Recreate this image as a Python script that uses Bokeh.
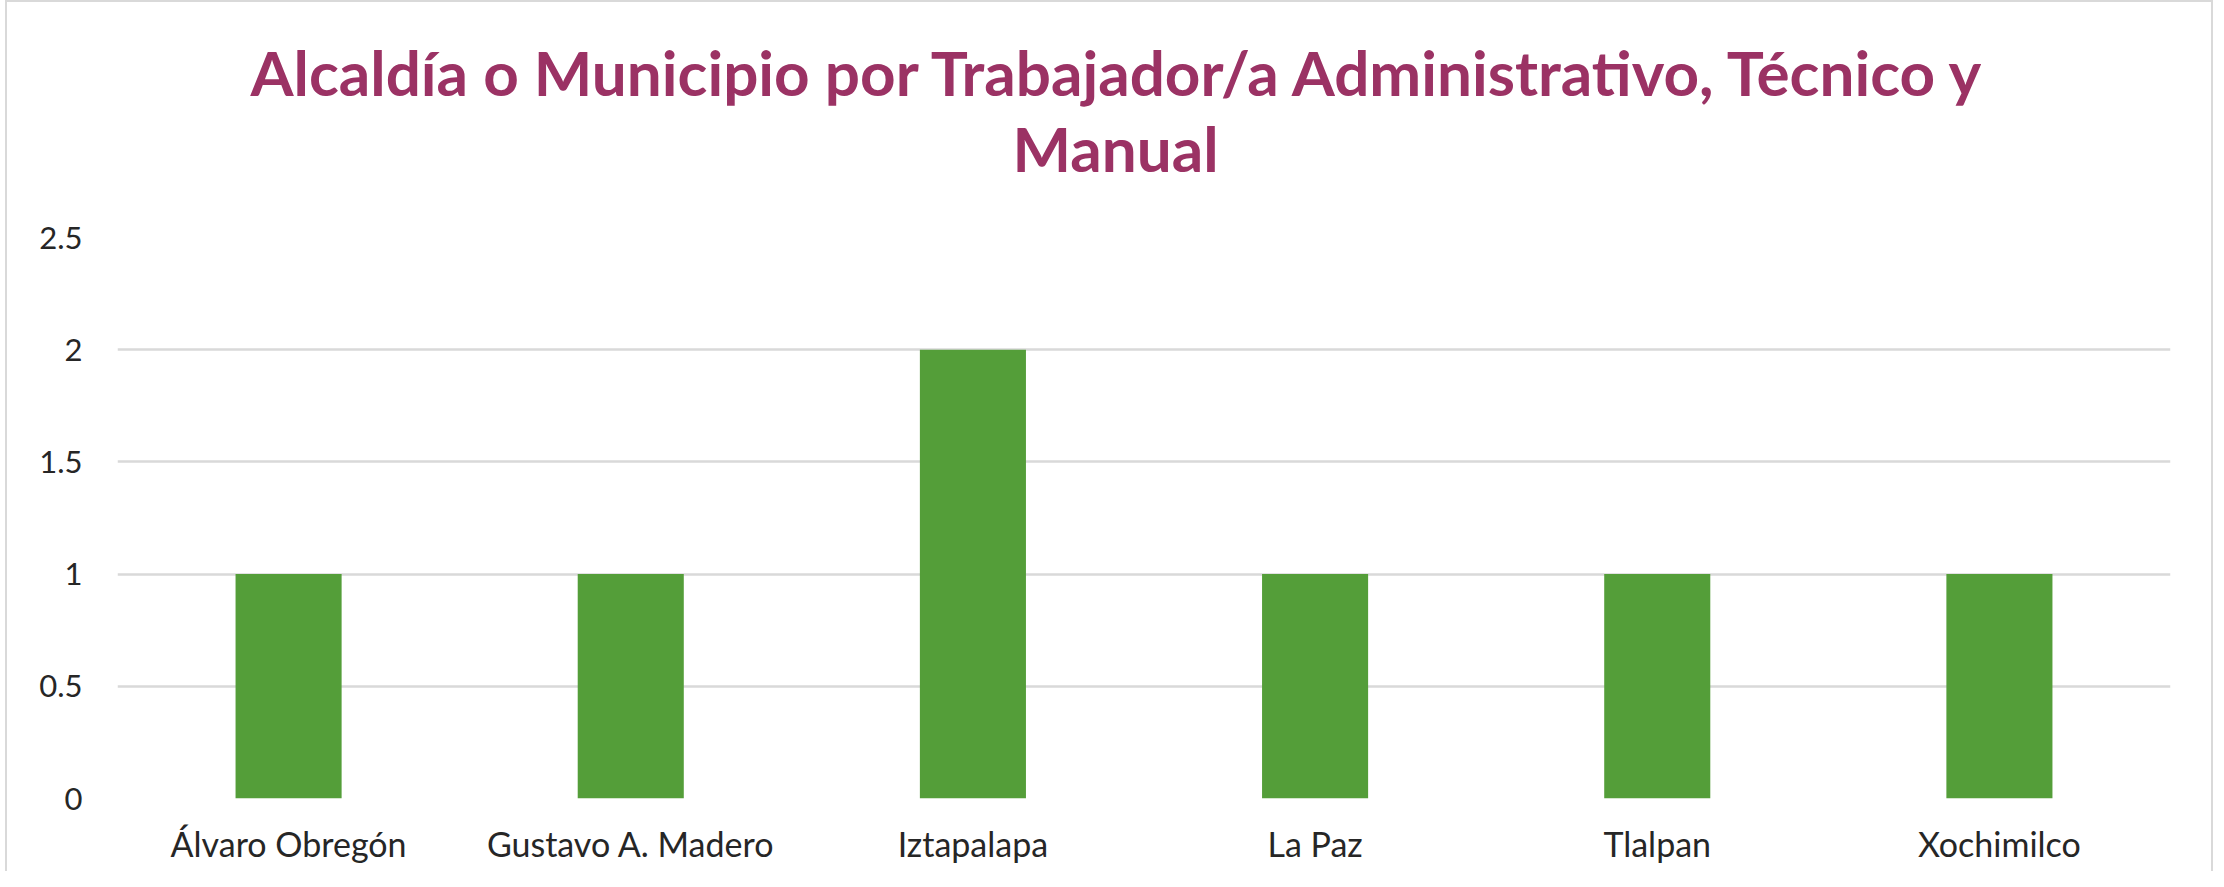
from bokeh.plotting import figure
from bokeh.models import Title, Range1d, FactorRange, ColumnDataSource, FixedTicker
from bokeh.embed import file_html
from bokeh.resources import INLINE

title_line1 = "Alcaldía o Municipio por Trabajador/a Administrativo, Técnico y"
title_line2 = "Manual"
categories = ["Álvaro Obregón", "Gustavo A. Madero", "Iztapalapa", "La Paz", "Tlalpan", "Xochimilco"]
values = [1, 1, 2, 1, 1, 1]
y_ticks = [0, 0.5, 1, 1.5, 2, 2.5]

BAR = "#549E39"
TITLE = "#9B3264"
GRID = "#D9D9D9"
FONT = "Lato"

src = ColumnDataSource(dict(cat=categories, val=values))

p = figure(
    x_range=FactorRange(*categories), y_range=Range1d(0, 2.5),
    width=2208, height=871, output_backend="svg", toolbar_location=None,
    title=None, min_border_left=110, min_border_right=45,
    min_border_top=235, min_border_bottom=75,
    margin=(0, 0, 0, 5),
    styles={"border-left": "2px solid #D9D9D9", "border-top": "2px solid #D9D9D9",
            "border-right": "2px solid #D9D9D9"},
)
p.vbar(x="cat", top="val", width=0.31, source=src, color=BAR, line_color=None)

# spacer between the plot area and the two title lines
p.add_layout(Title(text=" ", text_font_size="1px", standoff=50), "above")
p.add_layout(Title(text=title_line2, align="left", text_font=FONT, text_font_size="62px",
                   text_font_style="bold", text_color=TITLE, standoff=0, offset=895), "above")
p.add_layout(Title(text=title_line1, align="left", text_font=FONT, text_font_size="62px",
                   text_font_style="bold", text_color=TITLE, standoff=0, offset=133), "above")

p.outline_line_color = None
p.xgrid.grid_line_color = None
p.ygrid.grid_line_color = GRID
p.ygrid.grid_line_width = 2.5
p.yaxis.ticker = FixedTicker(ticks=y_ticks)

for ax in (p.xaxis[0], p.yaxis[0]):
    ax.axis_line_color = None
    ax.major_tick_line_color = None
    ax.minor_tick_line_color = None
    ax.major_tick_out = 0
    ax.major_tick_in = 0
    ax.major_label_text_font = FONT
    ax.major_label_text_color = "#262626"
p.xaxis.major_label_text_font_size = "34px"
p.yaxis.major_label_text_font_size = "31px"
p.xaxis.major_label_standoff = 24
p.yaxis.major_label_standoff = 35

open("out.html", "w").write(file_html(p, INLINE))
